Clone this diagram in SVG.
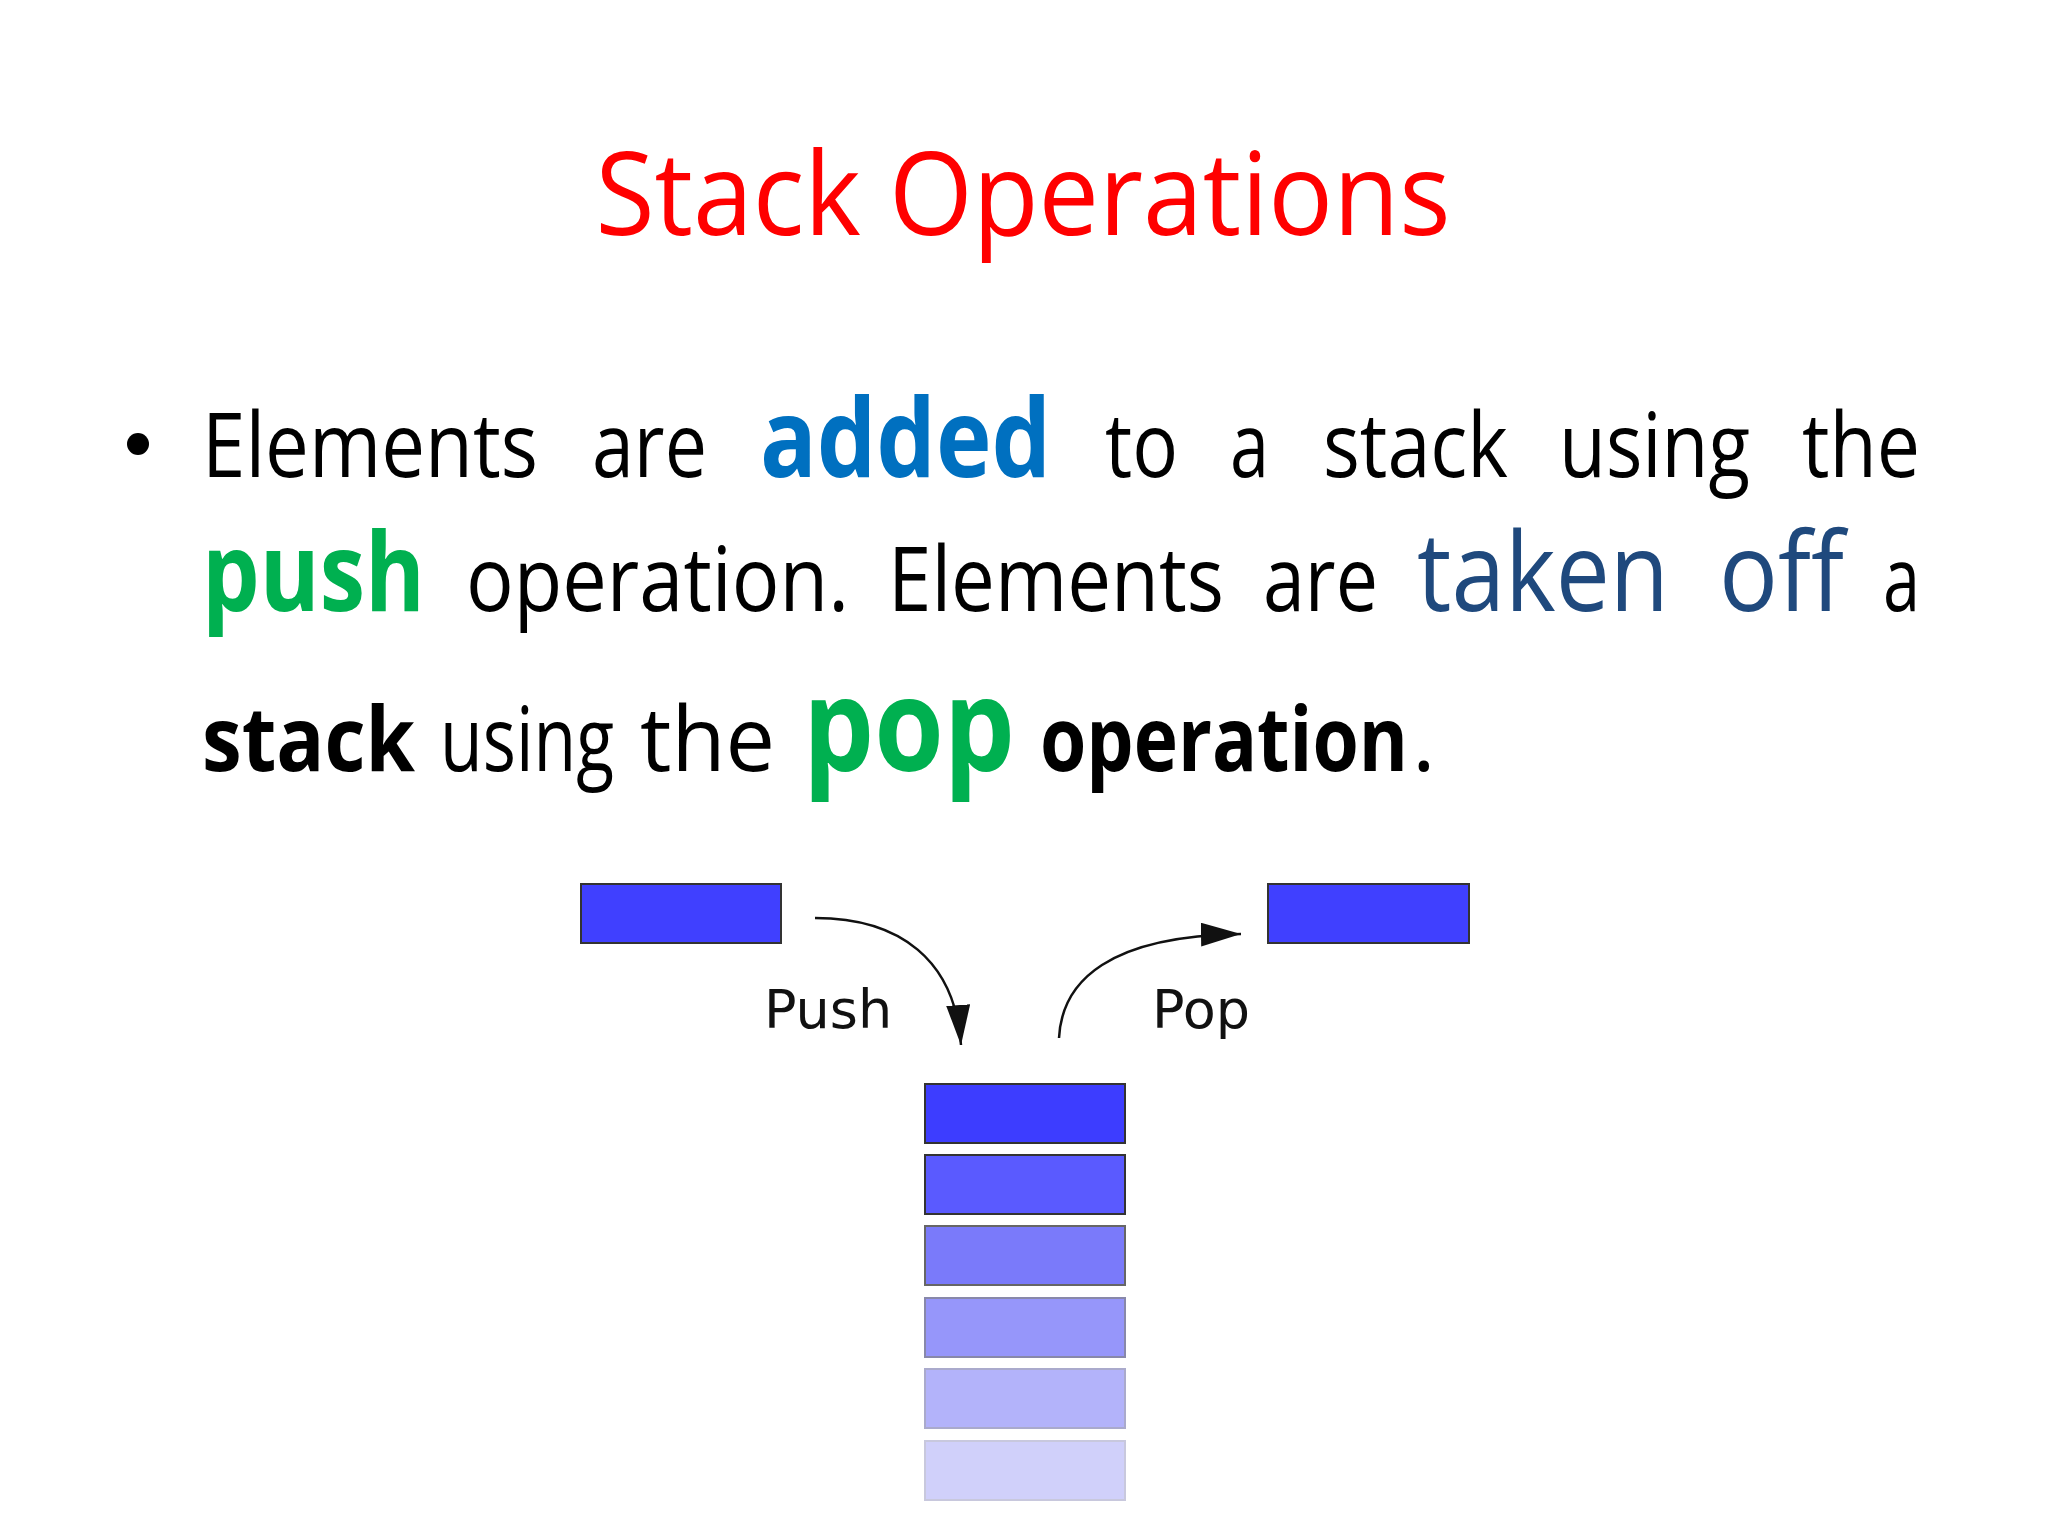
<svg xmlns="http://www.w3.org/2000/svg" width="2048" height="1536" viewBox="0 0 2048 1536">
<style>
.b{font-family:"Open Sans","Liberation Sans",sans-serif;font-size:90px;fill:#000}
.bd{font-weight:bold}
.lbl{font-family:"DejaVu Sans",sans-serif;font-size:54px;fill:#111}
.box{stroke:#333;stroke-width:2}
.ar{fill:none;stroke:#111;stroke-width:2.5}
</style>
<defs>
<marker id="ah2" markerWidth="40" markerHeight="24" refX="40" refY="12" orient="auto" markerUnits="userSpaceOnUse" viewBox="0 0 40 24"><path d="M0,0 L40,12 L0,24 Z" fill="#111"/></marker></defs>
<rect width="2048" height="1536" fill="#fff"/>
<text x="1023" y="235" text-anchor="middle" font-family="Open Sans, Liberation Sans, sans-serif" font-size="116" fill="#FF0000" textLength="855" lengthAdjust="spacingAndGlyphs">Stack Operations</text>
<circle cx="138" cy="444" r="11" fill="#000"/>
<g class="b">
<text x="202" y="477" textLength="336" lengthAdjust="spacingAndGlyphs">Elements</text>
<text x="592" y="477" textLength="115" lengthAdjust="spacingAndGlyphs">are</text>
<text x="760" y="477" class="bd" font-size="110" style="fill:#0070C0" textLength="291" lengthAdjust="spacingAndGlyphs">added</text>
<text x="1105" y="477" textLength="73" lengthAdjust="spacingAndGlyphs">to</text>
<text x="1230" y="477" textLength="39" lengthAdjust="spacingAndGlyphs">a</text>
<text x="1323" y="477" textLength="185" lengthAdjust="spacingAndGlyphs">stack</text>
<text x="1559" y="477" textLength="191" lengthAdjust="spacingAndGlyphs">using</text>
<text x="1802" y="477" textLength="118" lengthAdjust="spacingAndGlyphs">the</text>
<text x="202" y="611" class="bd" font-size="110" style="fill:#00B050" textLength="223" lengthAdjust="spacingAndGlyphs">push</text>
<text x="466" y="611" textLength="383" lengthAdjust="spacingAndGlyphs">operation.</text>
<text x="888" y="611" textLength="336" lengthAdjust="spacingAndGlyphs">Elements</text>
<text x="1263" y="611" textLength="115" lengthAdjust="spacingAndGlyphs">are</text>
<text x="1417" y="611" font-size="110" style="fill:#1F497D" textLength="252" lengthAdjust="spacingAndGlyphs">taken</text>
<text x="1719" y="611" font-size="110" style="fill:#1F497D" textLength="125" lengthAdjust="spacingAndGlyphs">off</text>
<text x="1883" y="611" textLength="37" lengthAdjust="spacingAndGlyphs">a</text>
<text x="202" y="771" class="bd" textLength="213" lengthAdjust="spacingAndGlyphs">stack</text>
<text x="440" y="771" textLength="174" lengthAdjust="spacingAndGlyphs">using</text>
<text x="640" y="771" textLength="135" lengthAdjust="spacingAndGlyphs">the</text>
<text x="803" y="771" class="bd" font-size="130" style="fill:#00B050" textLength="212" lengthAdjust="spacingAndGlyphs">pop</text>
<text x="1040" y="771" class="bd" textLength="368" lengthAdjust="spacingAndGlyphs">operation</text>
<text x="1412" y="771">.</text>
</g>
<g id="pushSrc"><rect class="box" x="581" y="884" width="200" height="59" fill="#4040FF"/></g>
<g id="popDst"><rect class="box" x="1268" y="884" width="201" height="59" fill="#4040FF"/></g>
<g id="stack">
<rect class="box" x="925" y="1084" width="200" height="59" fill="#3D3DFF"/>
<rect class="box" x="925" y="1155" width="200" height="59" fill="#5A5AFF"/>
<rect class="box" x="925" y="1226" width="200" height="59" fill="#7A7AFA" style="stroke:#666"/>
<rect class="box" x="925" y="1298" width="200" height="59" fill="#9696FA" style="stroke:#8888aa"/>
<rect class="box" x="925" y="1369" width="200" height="59" fill="#B3B3FA" style="stroke:#aaaacc"/>
<rect class="box" x="925" y="1441" width="200" height="59" fill="#D0D0FA" style="stroke:#c8c8dd"/>
</g>
<g id="connectors">
<path class="ar" d="M815,918 C900,918 955,960 961,1045" marker-end="url(#ah2)"/>
<path class="ar" d="M1059,1038 C1062,980 1110,936 1241,934" marker-end="url(#ah2)"/>
</g>
<text class="lbl" x="764" y="1028">Push</text>
<text class="lbl" x="1152" y="1028">Pop</text>
</svg>
